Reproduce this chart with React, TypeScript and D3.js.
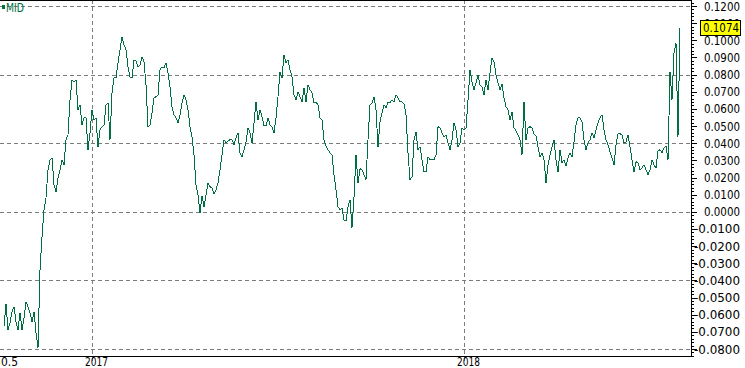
import React from 'react';
import * as d3 from 'd3';

const seriesName = 'MID';
const values: number[] = [
  -0.0665, -0.0536, -0.0688, -0.0647, -0.0583, -0.0554, -0.0641, -0.0688, -0.0589, -0.0688,
  -0.0618, -0.0525, -0.0554, -0.0589, -0.0641, -0.0583, -0.0705, -0.0793, -0.0338, -0.0146,
  0.0012, 0.0082, 0.0245, 0.0303, 0.0315, 0.0157, 0.0117, 0.0198, 0.0245, 0.0303,
  0.0274, 0.0420, 0.0449, 0.0653, 0.0770, 0.0758, 0.0770, 0.0595, 0.0624, 0.0507,
  0.0548, 0.0548, 0.0362, 0.0461, 0.0595, 0.0536, 0.0548, 0.0379, 0.0478, 0.0496,
  0.0507, 0.0624, 0.0635, 0.0420, 0.0694, 0.0781, 0.0781, 0.0869, 0.0945, 0.1020,
  0.0973, 0.0945, 0.0845, 0.0787, 0.0781, 0.0886, 0.0880, 0.0845, 0.0857, 0.0904,
  0.0874, 0.0740, 0.0496, 0.0507, 0.0577, 0.0665, 0.0671, 0.0682, 0.0828, 0.0845,
  0.0840, 0.0869, 0.0810, 0.0729, 0.0612, 0.0566, 0.0548, 0.0519, 0.0566, 0.0635,
  0.0682, 0.0653, 0.0595, 0.0496, 0.0437, 0.0332, 0.0157, 0.0099, -0.0006, 0.0093,
  0.0029, 0.0099, 0.0169, 0.0146, 0.0140, 0.0105, 0.0128, 0.0169, 0.0245, 0.0332,
  0.0420, 0.0402, 0.0414, 0.0420, 0.0420, 0.0391, 0.0431, 0.0461, 0.0344, 0.0321,
  0.0362, 0.0408, 0.0490, 0.0461, 0.0402, 0.0519, 0.0641, 0.0536, 0.0595, 0.0554,
  0.0501, 0.0501, 0.0548, 0.0507, 0.0496, 0.0461, 0.0548, 0.0671, 0.0816, 0.0781,
  0.0915, 0.0869, 0.0886, 0.0828, 0.0787, 0.0682, 0.0653, 0.0700, 0.0671, 0.0641,
  0.0723, 0.0641, 0.0740, 0.0711, 0.0694, 0.0635, 0.0641, 0.0624, 0.0548, 0.0536,
  0.0420, 0.0385, 0.0362, 0.0344, 0.0332, 0.0216, 0.0128, 0.0029, 0.0012, 0.0023,
  -0.0047, -0.0052, 0.0029, 0.0070, -0.0093, 0.0087, 0.0332, 0.0169, 0.0251, 0.0245,
  0.0216, 0.0187, 0.0420, 0.0624, 0.0635, 0.0671, 0.0595, 0.0379, 0.0525, 0.0577,
  0.0624, 0.0606, 0.0641, 0.0635, 0.0653, 0.0641, 0.0682, 0.0665, 0.0641, 0.0641,
  0.0630, 0.0566, 0.0344, 0.0187, 0.0204, 0.0420, 0.0466, 0.0362, 0.0379, 0.0303,
  0.0233, 0.0233, 0.0321, 0.0303, 0.0303, 0.0303, 0.0332, 0.0496, 0.0490, 0.0461,
  0.0437, 0.0449, 0.0402, 0.0362, 0.0420, 0.0519, 0.0478, 0.0379, 0.0402, 0.0490,
  0.0478, 0.0490, 0.0653, 0.0828, 0.0758, 0.0711, 0.0752, 0.0799, 0.0740, 0.0729,
  0.0682, 0.0770, 0.0711, 0.0810, 0.0898, 0.0874, 0.0799, 0.0752, 0.0711, 0.0746,
  0.0665, 0.0612, 0.0595, 0.0536, 0.0583, 0.0490, 0.0472, 0.0449, 0.0420, 0.0332,
  0.0641, 0.0420, 0.0490, 0.0496, 0.0490, 0.0455, 0.0443, 0.0379, 0.0321, 0.0344,
  0.0303, 0.0169, 0.0274, 0.0332, 0.0379, 0.0420, 0.0303, 0.0233, 0.0362, 0.0286,
  0.0303, 0.0268, 0.0315, 0.0344, 0.0321, 0.0408, 0.0507, 0.0548, 0.0548, 0.0525,
  0.0420, 0.0362, 0.0402, 0.0420, 0.0461, 0.0431, 0.0478, 0.0519, 0.0548, 0.0566,
  0.0478, 0.0420, 0.0391, 0.0350, 0.0315, 0.0274, 0.0391, 0.0455, 0.0455, 0.0449,
  0.0402, 0.0408, 0.0449, 0.0379, 0.0303, 0.0233, 0.0292, 0.0286, 0.0245, 0.0256,
  0.0274, 0.0245, 0.0216, 0.0245, 0.0303, 0.0274, 0.0256, 0.0356, 0.0362, 0.0344,
  0.0373, 0.0385, 0.0303, 0.0816, 0.0653, 0.0927, 0.0985, 0.0437, 0.1074,
];

const xTickIndex = [44, 230];
const xTickLabels = ['2017', '2018'];
const firstXLabel = '0.5';
const yMin = -0.08;
const yMax = 0.12;
const yLabelStep = 0.01;
const yMinorStep = 0.002;
const yGridStep = 0.04;

const LINE_COLOR = '#006f42';
const GRID_COLOR = '#7c7c7c';
const FONT = "'DejaVu Sans Condensed', 'DejaVu Sans', sans-serif";

export default function App() {
  const W = 745;
  const H = 368;
  const plotRight = 691;
  const axisY = 356.5;

  const x = d3.scaleLinear().domain([0, values.length - 1]).range([4, 680]);
  const y = d3.scaleLinear().domain([yMin, yMax]).range([349, 6]);

  const line = d3
    .line<number>()
    .x((_, i) => x(i))
    .y((d) => y(d));

  const labelVals = d3.range(Math.round(yMin / yLabelStep), Math.round(yMax / yLabelStep) + 1).map((k) => k * yLabelStep);
  const minorVals = d3.range(Math.round(yMin / yMinorStep) - 2, Math.round(yMax / yMinorStep) + 2).map((k) => k * yMinorStep);
  const gridVals = d3.range(Math.round(yMin / yGridStep), Math.round(yMax / yGridStep) + 1).map((k) => k * yGridStep);

  const last = values[values.length - 1];
  const fmt = (v: number) => (Math.abs(v) < 1e-9 ? 0 : v).toFixed(4);
  const py = (v: number) => Math.round(y(v)) + 0.5;
  const boxTop = Math.round(y(last)) - 7.5;

  return (
    <svg
      width={W}
      height={H}
      style={{ position: 'absolute', left: 0, top: 0, background: '#fff' }}
      fontFamily={FONT}
    >
      <rect x={0} y={0} width={W} height={H} fill="#fff" />
      {gridVals.map((v) => (
        <line key={'g' + v} x1={0} x2={plotRight} y1={py(v)} y2={py(v)} stroke={GRID_COLOR} strokeDasharray="4,3" shapeRendering="crispEdges" />
      ))}
      {xTickIndex.map((i) => (
        <line key={'v' + i} x1={Math.round(x(i)) + 0.5} x2={Math.round(x(i)) + 0.5} y1={0} y2={axisY + 4} stroke={GRID_COLOR} strokeDasharray="4,3" shapeRendering="crispEdges" />
      ))}
      <line x1={0} x2={plotRight} y1={0.5} y2={0.5} stroke="#000" shapeRendering="crispEdges" />
      <line x1={0} x2={plotRight} y1={axisY} y2={axisY} stroke="#000" shapeRendering="crispEdges" />
      <line x1={plotRight + 0.5} x2={plotRight + 0.5} y1={0} y2={axisY} stroke="#000" shapeRendering="crispEdges" />
      <path d={line(values) || ''} fill="none" stroke={LINE_COLOR} strokeWidth={1} shapeRendering="crispEdges" />
      {minorVals.map((v) => (
        <line key={'m' + v} x1={plotRight} x2={plotRight + 3} y1={py(v)} y2={py(v)} stroke="#000" shapeRendering="crispEdges" />
      ))}
      {labelVals.map((v) => (
        <g key={'l' + v}>
          <line x1={plotRight} x2={plotRight + 6} y1={py(v)} y2={py(v)} stroke="#000" shapeRendering="crispEdges" />
          <text
            x={740}
            y={y(v)}
            dy="0.36em"
            textAnchor="end"
            fontSize={12.5}
            fill="#000"
            textLength={v < -1e-9 ? 46 : 36}
            lengthAdjust="spacingAndGlyphs"
          >
            {fmt(v)}
          </text>
        </g>
      ))}
      <rect x={700.5} y={boxTop} width={40} height={15} fill="#ffff00" stroke="#000" shapeRendering="crispEdges" />
      <text x={739} y={y(last)} dy="0.36em" textAnchor="end" fontSize={12.5} fill="#000" textLength={36} lengthAdjust="spacingAndGlyphs">
        {fmt(last)}
      </text>
      <text x={1} y={365.5} fontSize={12} fill="#000" textLength={17} lengthAdjust="spacingAndGlyphs">
        {firstXLabel}
      </text>
      {xTickIndex.map((i, k) => (
        <text key={'x' + i} x={Math.round(x(i)) - 7} y={365.5} fontSize={12} fill="#000" textLength={23} lengthAdjust="spacingAndGlyphs">
          {xTickLabels[k]}
        </text>
      ))}
      <rect x={2} y={5} width={3} height={4} fill={LINE_COLOR} />
      <text x={6} y={12} fontSize={12.5} fill={LINE_COLOR} textLength={18} lengthAdjust="spacingAndGlyphs">
        {seriesName}
      </text>
    </svg>
  );
}
